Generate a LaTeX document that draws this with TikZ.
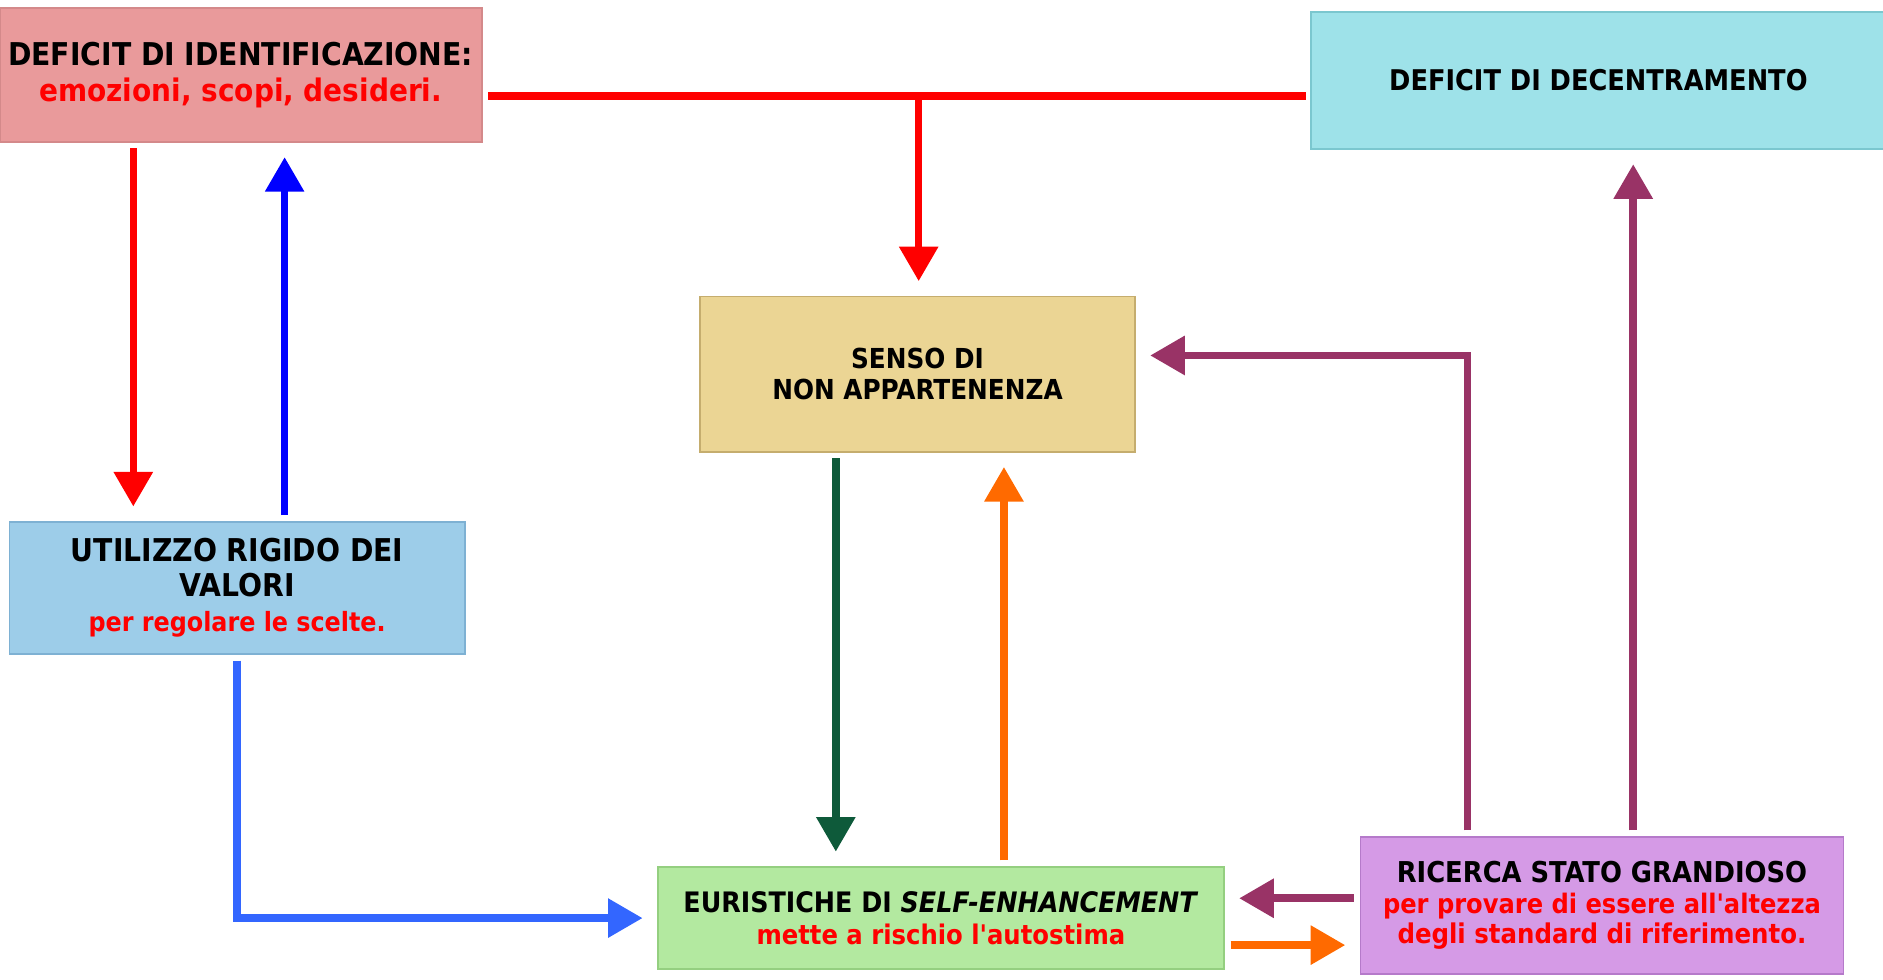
\documentclass[tikz,border=0pt]{standalone}
\usepackage{fontspec}
\setmainfont{DejaVu Sans Condensed}
\usetikzlibrary{arrows.meta}

\definecolor{identfill}{HTML}{E99A9B}
\definecolor{identline}{HTML}{D4898A}
\definecolor{decfill}{HTML}{9EE2E9}
\definecolor{decline}{HTML}{7BC7CF}
\definecolor{sensofill}{HTML}{EBD594}
\definecolor{sensoline}{HTML}{C5AD6E}
\definecolor{utilfill}{HTML}{9DCDE9}
\definecolor{utilline}{HTML}{7EB1D3}
\definecolor{eurfill}{HTML}{B3E9A0}
\definecolor{eurline}{HTML}{94CF80}
\definecolor{ricfill}{HTML}{D59AE6}
\definecolor{ricline}{HTML}{B57ACA}
\definecolor{lightblue}{HTML}{3366FF}
\definecolor{darkgreen}{HTML}{0E5A3A}
\definecolor{arrorange}{HTML}{FF6A00}
\definecolor{arrpurple}{HTML}{993366}

\newcommand{\fsize}[2]{\fontsize{#1}{#2}\selectfont}

\begin{document}
\begin{tikzpicture}[x=0.025cm,y=-0.025cm,
  box/.style={rectangle,line width=1pt,inner sep=0pt,align=center},
  conn/.style={line width=4.5pt,shorten <=0.12cm,shorten >=0.3cm},
  arr/.style={conn,-{Triangle[length=0.72cm,width=0.78cm]}}]
\useasboundingbox (0,0) rectangle (1568,816);

% the six boxes
\node[box,fill=identfill,draw=identline,minimum width=10.03cm,minimum height=2.78cm,
  font=\bfseries\fsize{18.6}{21.8}] (ident) at (200.5,62.5)
  {DEFICIT DI IDENTIFICAZIONE:\\\fsize{18.4}{21.8}\color{red}emozioni, scopi, desideri.};
\node[box,fill=decfill,draw=decline,minimum width=11.95cm,minimum height=2.85cm,
  font=\bfseries\fsize{16.9}{19}] (decentr) at (1331,67)
  {DEFICIT DI DECENTRAMENTO};
\node[box,fill=sensofill,draw=sensoline,minimum width=9.05cm,minimum height=3.23cm,
  font=\bfseries\fsize{16.3}{18.5}] (senso) at (764,311.5)
  {SENSO DI\\NON APPARTENENZA};
\node[box,fill=utilfill,draw=utilline,minimum width=9.48cm,minimum height=2.75cm,
  font=\bfseries\fsize{18.6}{20.6}] (util) at (197.5,489.5)
  {UTILIZZO RIGIDO DEI\\VALORI\\\fsize{15.7}{20.6}\color{red}per regolare le scelte.};
\node[box,fill=eurfill,draw=eurline,minimum width=11.78cm,minimum height=2.13cm,
  font=\bfseries\fsize{16.7}{19.2}] (eur) at (783.5,764.5)
  {EURISTICHE DI \textit{SELF-ENHANCEMENT}\\\fsize{16}{19.2}\color{red}mette a rischio l\textquotesingle autostima};
\node[box,fill=ricfill,draw=ricline,minimum width=10.05cm,minimum height=2.85cm,
  font=\bfseries\fsize{17}{18.2}] (ricerca) at (1334,754)
  {RICERCA STATO GRANDIOSO\\\fsize{15.9}{18.2}\color{red}per provare di essere all\textquotesingle altezza\\\fsize{16.1}{18.2}\color{red}degli standard di riferimento.};

% tracks of the connectors
\coordinate (redjoin) at (765,80);
\coordinate (reddown) at (111,0);
\coordinate (blueup) at (237,0);
\coordinate (greendown) at (696,0);
\coordinate (orangeup) at (836,0);
\coordinate (purplebend) at (1222,296);
\coordinate (purpleup) at (1360,0);
\coordinate (purpleleft) at (0,748);
\coordinate (orangeright) at (0,787);

\draw[conn,red,shorten >=0.1cm] (ident.east |- redjoin) -- (decentr.west |- redjoin);
\draw[arr,red,shorten <=0pt] (redjoin) -- (senso.north -| redjoin);
\draw[arr,red] (ident.south -| reddown) -- (util.north -| reddown);
\draw[arr,blue] (util.north -| blueup) -- (ident.south -| blueup);
\draw[arr,lightblue] (util.south) |- (eur.west);
\draw[arr,darkgreen] (senso.south -| greendown) -- (eur.north -| greendown);
\draw[arr,arrorange] (eur.north -| orangeup) -- (senso.south -| orangeup);
\draw[arr,arrpurple] (ricerca.north -| purplebend) -- (purplebend) -- (senso.east |- purplebend);
\draw[arr,arrpurple] (ricerca.north -| purpleup) -- (decentr.south -| purpleup);
\draw[arr,arrpurple] (ricerca.west |- purpleleft) -- (eur.east |- purpleleft);
\draw[arr,arrorange] (eur.east |- orangeright) -- (ricerca.west |- orangeright);
\end{tikzpicture}
\end{document}
